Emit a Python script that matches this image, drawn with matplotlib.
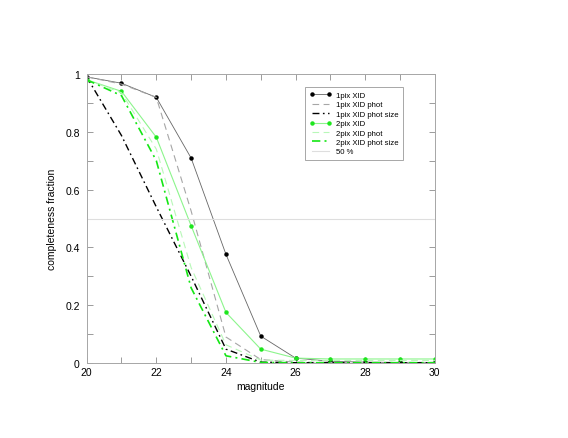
import matplotlib
matplotlib.use("Agg")
import matplotlib.pyplot as plt
from matplotlib.ticker import MultipleLocator

plt.rcParams['font.family'] = ['Liberation Sans', 'DejaVu Sans']

mags = [20, 21, 22, 23, 24, 25, 26, 27, 28, 29, 30]
xid1 = [0.99, 0.968, 0.919, 0.709, 0.376, 0.093, 0.017, 0.006, 0.003, 0.002, 0.002]
phot1 = [0.99, 0.965, 0.919, 0.526, 0.09, 0.012, 0.003, 0.002, 0.002, 0.002, 0.002]
size1 = [0.99, 0.787, 0.54, 0.30, 0.048, 0.003, 0.001, 0.001, 0.001, 0.001, 0.001]
xid2 = [0.98, 0.94, 0.781, 0.475, 0.175, 0.048, 0.017, 0.014, 0.014, 0.014, 0.014]
phot2 = [0.98, 0.935, 0.74, 0.33, 0.063, 0.01, 0.009, 0.009, 0.009, 0.009, 0.009]
size2 = [0.98, 0.925, 0.70, 0.26, 0.025, 0.002, 0.001, 0.001, 0.001, 0.001, 0.001]
half = 0.5

fig = plt.figure(figsize=(5.68, 4.39), dpi=100)
ax = fig.add_axes([0.1526, 0.1708, 0.613, 0.6584])

ax.plot(mags, xid1, color='0.4', lw=0.6, marker='o', ms=2.2,
        mfc='black', mec='black', label='1pix XID')
ax.plot(mags, phot1, color='0.65', lw=0.8, dashes=(6, 4), label='1pix XID phot')
ax.plot(mags, size1, color='black', lw=1.0, dashes=(5, 2.5, 1.2, 2.5), label='1pix XID phot size')
ax.plot(mags, xid2, color='#8cf58c', lw=0.8, marker='o', ms=2.2,
        mfc='#1ee61e', mec='#1ee61e', label='2pix XID')
ax.plot(mags, phot2, color='#b8f8b8', lw=0.8, dashes=(6, 4), label='2pix XID phot')
ax.plot(mags, size2, color='#14e614', lw=1.2, dashes=(5, 2.5, 1.2, 2.5), label='2pix XID phot size')
ax.axhline(half, color='0.87', lw=0.8, label='50 %')

ax.set_xlim(20, 30)
ax.set_ylim(0, 1)
ax.xaxis.set_major_locator(MultipleLocator(2))
ax.xaxis.set_minor_locator(MultipleLocator(1))
ax.yaxis.set_minor_locator(MultipleLocator(0.1))
ax.set_yticks([0, 0.2, 0.4, 0.6, 0.8, 1.0])
ax.set_yticklabels(['0', '0.2', '0.4', '0.6', '0.8', '1'])
ax.tick_params(which='both', direction='in', top=True, right=True,
               labelsize=7.5, color='0.55', width=0.6, length=4)
ax.tick_params(axis='y', pad=5)
ax.tick_params(axis='x', pad=3)
for s in ax.spines.values():
    s.set_color('0.65')
    s.set_linewidth(0.7)

ax.set_xlabel('magnitude', fontsize=7.5, labelpad=3)
ax.set_ylabel('completeness fraction', fontsize=7.5, labelpad=6)

leg = ax.legend(loc='upper left', bbox_to_anchor=(0.627, 0.955), fontsize=5.6,
                frameon=True, fancybox=False, edgecolor='0.6', framealpha=1,
                handlelength=2.8, handletextpad=0.6, labelspacing=0.25,
                borderpad=0.6, borderaxespad=0, numpoints=2)
leg.get_frame().set_linewidth(0.6)

fig.savefig('out.png', dpi=100)
